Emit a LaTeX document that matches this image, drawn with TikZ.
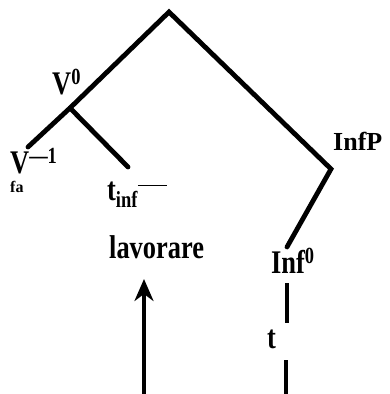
\documentclass[tikz,border=0pt]{standalone}
\usepackage{graphicx}
\usepackage{fontspec}
\setmainfont{Liberation Serif}
\usetikzlibrary{arrows.meta}

\newcommand{\narrow}[1]{\scalebox{0.8}[1]{#1}}

\begin{document}
\begin{tikzpicture}[x=1pt, y=-1pt, >=Stealth,
    branch/.style={line width=4.8pt, line cap=round},
    trace/.style={line width=3.5pt},
    lbl/.style={font=\bfseries\fontsize{33}{34}\selectfont, inner sep=0pt},
    small/.style={font=\bfseries\fontsize{16}{17}\selectfont, inner sep=0pt}]
    \useasboundingbox (0,0) rectangle (389,394);

    % branching points
    \coordinate (top) at (169,12);
    \coordinate (vnode) at (70,108);
    \coordinate (vleft) at (28,147);
    \coordinate (tend) at (128,167);
    \coordinate (kink) at (331,169);
    \coordinate (infend) at (287,247);

    % labels
    \node[lbl, anchor=base west] (vzero) at (52,94) {\narrow{V\textsuperscript{0}}};
    \node[lbl, anchor=base west] (vminus) at (10,173) {\narrow{V\textsuperscript{---1}}};
    \node[small, anchor=base west] (vfa) at (10,192) {fa};
    \node[lbl, anchor=base west] (tinf) at (107,200) {\narrow{t\textsubscript{inf}\rule[0.42em]{36pt}{1.3pt}}};
    \node[lbl, anchor=base west] (lavorare) at (109,258) {\narrow{lavorare}};
    \node[lbl, font=\bfseries\fontsize{26}{27}\selectfont, anchor=base west] (infp) at (333,150) {InfP};
    \node[lbl, anchor=base west] (infzero) at (271,273) {\narrow{Inf\textsuperscript{0}}};
    \node[lbl, anchor=base west] (trace) at (267,348) {\narrow{t}};

    % tree
    \draw[branch] (vleft) -- (vnode) -- (top) -- (kink) -- (infend);
    \draw[branch] (vnode) -- (tend);

    % chain below Inf
    \coordinate (ta) at (287,283);
    \coordinate (tb) at (287,323);
    \coordinate (tc) at (286,360);
    \coordinate (td) at (286,394);
    \draw[trace] (ta) -- (tb);
    \draw[trace] (tc) -- (td);

    % arrow up to lavorare
    \coordinate (abase) at (144,394);
    \coordinate (atip) at (144,279);
    \draw[line width=3.5pt, -{Stealth[length=22pt, width=19pt, inset=7pt]}] (abase) -- (atip);
\end{tikzpicture}
\end{document}
